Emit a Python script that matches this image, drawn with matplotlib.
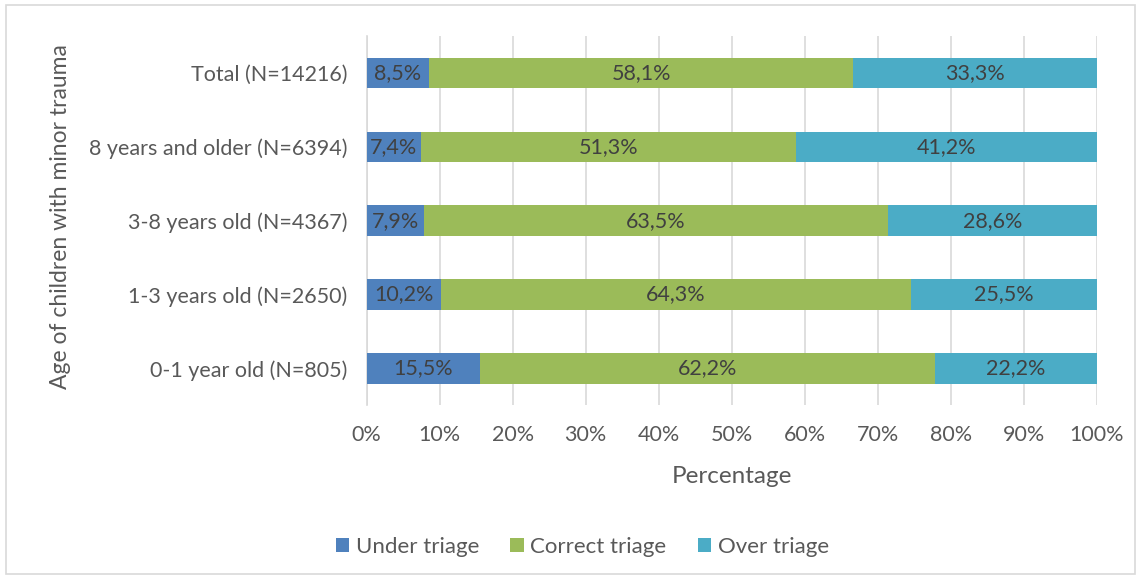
import matplotlib.pyplot as plt
import matplotlib.patches as mpatches
import numpy as np

plt.rcParams['font.family'] = ['Lato', 'DejaVu Sans']

# categories, bottom to top
groups = ['0-1 year old (N=805)', '1-3 years old (N=2650)', '3-8 years old (N=4367)',
          '8 years and older (N=6394)', 'Total (N=14216)']
under = [15.5, 10.2, 7.9, 7.4, 8.5]
correct = [62.2, 64.3, 63.5, 51.3, 58.1]
over = [22.2, 25.5, 28.6, 41.2, 33.3]
series_names = ['Under triage', 'Correct triage', 'Over triage']
colors = ['#4F81BD', '#9BBB59', '#4BACC6']

text_color = '#595959'

fig = plt.figure(figsize=(11.42, 5.79), dpi=100)
ax = fig.add_axes([0.321, 0.300, 0.6395, 0.638])

# chart border
fig.patches.append(mpatches.Rectangle((0.005, 0.008), 0.989, 0.984, transform=fig.transFigure,
                                      fill=False, edgecolor='#D9D9D9', linewidth=1.2))

vals = np.array([under, correct, over], dtype=float)
totals = vals.sum(axis=0)
y = np.arange(len(groups))
left = np.zeros(len(groups))
for name, v, c in zip(series_names, vals, colors):
    w = v / totals * 100
    ax.barh(y, w, left=left, height=0.41, color=c, label=name, zorder=3)
    for yi, li, wi, vi in zip(y, left, w, v):
        ax.text(li + wi / 2, yi, f'{vi:.1f}%'.replace('.', ','), ha='center', va='center',
                fontsize=15.5, color='#404040', zorder=4)
    left += w

ax.set_xlim(0, 100)
ax.set_ylim(-0.5, len(groups) - 0.5)
ax.set_xticks(np.arange(0, 101, 10))
ax.set_xticklabels([f'{t}%' for t in range(0, 101, 10)])
ax.set_yticks(y)
ax.set_yticklabels(groups)
ax.tick_params(axis='both', length=0, labelsize=15.5, labelcolor=text_color)
ax.tick_params(axis='x', pad=14)
ax.tick_params(axis='y', pad=14)
ax.grid(axis='x', color='#D9D9D9', linewidth=1.2, zorder=0)
for s in ['top', 'right', 'bottom']:
    ax.spines[s].set_visible(False)
ax.spines['left'].set_color('#D9D9D9')
ax.spines['left'].set_linewidth(1.2)

ax.set_xlabel('Percentage', fontsize=17.5, color=text_color, labelpad=15)
fig.text(0.053, 0.626, 'Age of children with minor trauma', rotation=90, ha='center', va='center',
         fontsize=16.5, color=text_color)

fig.legend(loc='center', bbox_to_anchor=(0.51, 0.055), ncol=3, frameon=False,
           fontsize=16, labelcolor=text_color, handlelength=0.6, handleheight=0.6,
           handletextpad=0.3, columnspacing=1.4)

fig.savefig('out.png', dpi=100, facecolor='white')
